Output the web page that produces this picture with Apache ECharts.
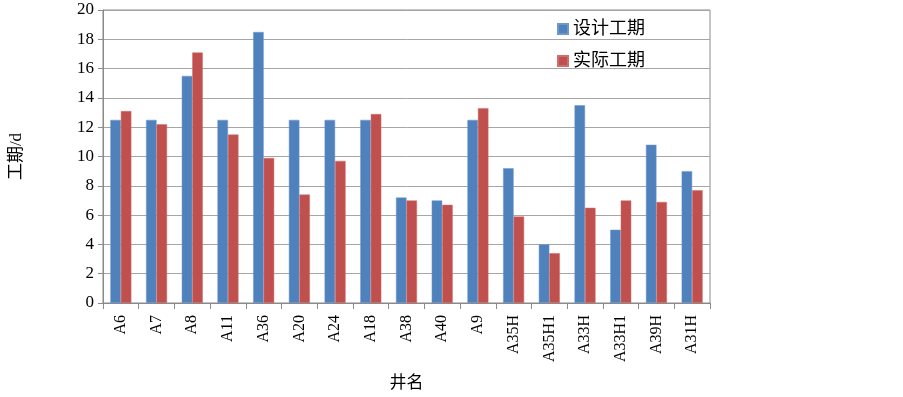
<!DOCTYPE html>
<html><head><meta charset="utf-8">
<script src="https://cdn.jsdelivr.net/npm/echarts@6/dist/echarts.min.js"></script>
<style>html,body{margin:0;padding:0;background:#fff}#c{width:903px;height:397px}</style>
</head><body><div id="c"></div>
<script>
const categories = ['A6','A7','A8','A11','A36','A20','A24','A18','A38','A40','A9','A35H','A35H1','A33H','A33H1','A39H','A31H'];
const designDays = [12.5,12.5,15.5,12.5,18.5,12.5,12.5,12.5,7.2,7.0,12.5,9.2,4.0,13.5,5.0,10.8,9.0];
const actualDays = [13.1,12.2,17.1,11.5,9.9,7.4,9.7,12.9,7.0,6.7,13.3,5.9,3.4,6.5,7.0,6.9,7.7];
const seriesNames = ['设计工期','实际工期'];
const yTicks = {min:0,max:20,interval:2};

const font = "'Liberation Serif','Noto Sans CJK SC',serif";
const chart = echarts.init(document.getElementById('c'));
chart.setOption({
  animation:false,
  backgroundColor:'#fff',
  textStyle:{fontFamily:font},
  grid:{left:98,right:193,top:10,bottom:86,show:true,borderColor:'#8a8a8a',borderWidth:1},
  legend:{
    orient:'vertical',left:552,top:15,itemGap:14,
    icon:'rect',itemWidth:10,itemHeight:10,
    textStyle:{fontSize:18,color:'#000',fontFamily:font},
    data:seriesNames
  },
  xAxis:{
    type:'category',data:categories,
    name:'井名',nameLocation:'middle',nameGap:72,
    nameTextStyle:{fontSize:17,color:'#000',fontFamily:font},
    axisLine:{lineStyle:{color:'#8a8a8a'}},
    axisTick:{show:true,length:6,lineStyle:{color:'#8a8a8a'}},
    axisLabel:{rotate:90,fontSize:16,color:'#000',margin:12,interval:0,fontFamily:font}
  },
  yAxis:{
    type:'value',min:yTicks.min,max:yTicks.max,interval:yTicks.interval,
    name:'工期/d',nameLocation:'middle',nameGap:78,
    nameTextStyle:{fontSize:17,color:'#000',fontFamily:font},
    axisLine:{show:true,lineStyle:{color:'#8a8a8a'}},
    axisTick:{show:true,length:5,lineStyle:{color:'#8a8a8a'}},
    axisLabel:{fontSize:17,color:'#000',margin:9,fontFamily:font},
    splitLine:{lineStyle:{color:'#a6a6a6',width:1}}
  },
  series:[
    {name:seriesNames[0],type:'bar',data:designDays,barWidth:10.5,barGap:'0%',
     itemStyle:{color:'#4F81BD',borderColor:'#6f97cc',borderWidth:0.5}},
    {name:seriesNames[1],type:'bar',data:actualDays,barWidth:10.5,barGap:'0%',
     itemStyle:{color:'#C0504D',borderColor:'#d06e6b',borderWidth:0.5}}
  ]
});
</script></body></html>
